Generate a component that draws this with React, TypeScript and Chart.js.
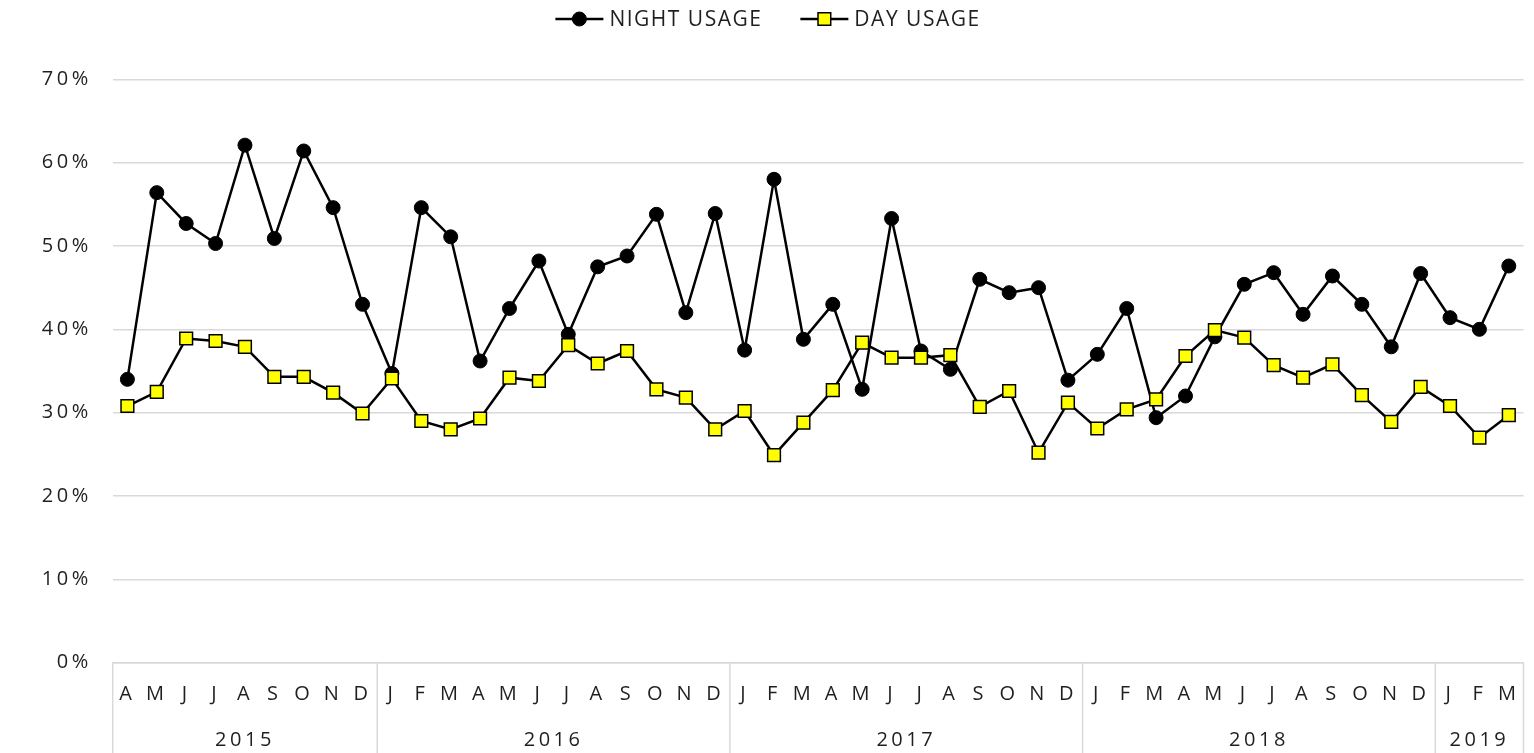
import React, { useEffect, useRef } from 'react';
import { Chart, registerables } from 'chart.js';

Chart.register(...registerables);

// ---------- data ----------
const MONTH_LABELS = [
  'A', 'M', 'J', 'J', 'A', 'S', 'O', 'N', 'D',
  'J', 'F', 'M', 'A', 'M', 'J', 'J', 'A', 'S', 'O', 'N', 'D',
  'J', 'F', 'M', 'A', 'M', 'J', 'J', 'A', 'S', 'O', 'N', 'D',
  'J', 'F', 'M', 'A', 'M', 'J', 'J', 'A', 'S', 'O', 'N', 'D',
  'J', 'F', 'M',
];
const YEAR_LABELS = ['2015', '2016', '2017', '2018', '2019'];
const YEAR_MONTH_COUNTS = [9, 12, 12, 12, 3];

const NIGHT_USAGE = [
  34.0, 56.4, 52.7, 50.3, 62.1, 50.9, 61.4, 54.6, 43.0,
  34.7, 54.6, 51.1, 36.2, 42.5, 48.2, 39.4, 47.5, 48.8, 53.8, 42.0, 53.9,
  37.5, 58.0, 38.8, 43.0, 32.8, 53.3, 37.4, 35.2, 46.0, 44.4, 45.0, 33.9,
  37.0, 42.5, 29.4, 32.0, 39.1, 45.4, 46.8, 41.8, 46.4, 43.0, 37.9, 46.7,
  41.4, 40.0, 47.6,
];
const DAY_USAGE = [
  30.8, 32.5, 38.9, 38.6, 37.9, 34.3, 34.3, 32.4, 29.9,
  34.1, 29.0, 28.0, 29.3, 34.2, 33.8, 38.1, 35.9, 37.4, 32.8, 31.8, 28.0,
  30.2, 24.9, 28.8, 32.7, 38.4, 36.6, 36.6, 36.9, 30.7, 32.6, 25.2, 31.2,
  28.1, 30.4, 31.6, 36.8, 39.9, 39.0, 35.7, 34.2, 35.8, 32.1, 28.9, 33.1,
  30.8, 27.0, 29.7,
];
const SERIES_NAMES = ['NIGHT USAGE', 'DAY USAGE'];

const Y_MIN = 0;
const Y_MAX = 70;
const Y_STEP = 10;

// ---------- styles ----------
const FONT = '"Open Sans", "DejaVu Sans", sans-serif';
const GRID = '#d9d9d9';
const TEXT = '#1f1f1f';
const AXIS_LS = '3.5px';
const LEGEND_LS = '1.5px';
const AXIS_FONT_SIZE = 20;
const LEGEND_FONT_SIZE = 21;

const setSpacing = (chart: any, v: string) => {
  (chart.ctx as any).letterSpacing = v;
};

const letterSpacingPlugin = {
  id: 'letterSpacing',
  beforeUpdate(chart: any) { setSpacing(chart, AXIS_LS); },
  beforeLayout(chart: any) { setSpacing(chart, AXIS_LS); },
  beforeDraw(chart: any) { setSpacing(chart, AXIS_LS); },
};

const yearAxisPlugin = {
  id: 'yearAxis',
  afterDraw(chart: any) {
    const ctx = chart.ctx as CanvasRenderingContext2D;
    const xs = chart.scales.x;
    const top = xs.top;
    const bottom = chart.height;
    const edge = (i: number) => xs.getPixelForValue(i - 0.5);
    const bounds = [0];
    YEAR_MONTH_COUNTS.forEach((c) => bounds.push(bounds[bounds.length - 1] + c));
    ctx.save();
    (ctx as any).letterSpacing = AXIS_LS;
    ctx.strokeStyle = GRID;
    ctx.lineWidth = 1.5;
    bounds.forEach((b) => {
      const px = edge(b);
      ctx.beginPath();
      ctx.moveTo(px, top);
      ctx.lineTo(px, bottom);
      ctx.stroke();
    });
    ctx.font = `${AXIS_FONT_SIZE}px ${FONT}`;
    ctx.fillStyle = TEXT;
    ctx.textAlign = 'center';
    ctx.textBaseline = 'middle';
    YEAR_LABELS.forEach((label, k) => {
      const cx = (edge(bounds[k]) + edge(bounds[k + 1])) / 2;
      ctx.fillText(label, cx, top + 78);
    });
    ctx.restore();
  },
};

const lineLegendPlugin = {
  id: 'lineLegend',
  afterDraw(chart: any) {
    const ctx = chart.ctx as CanvasRenderingContext2D;
    ctx.save();
    (ctx as any).letterSpacing = LEGEND_LS;
    ctx.font = `${LEGEND_FONT_SIZE}px ${FONT}`;
    const SAMPLE = 48;
    const GAP = 6;
    const ITEM_GAP = 38;
    const datasets = chart.data.datasets;
    const widths = datasets.map((ds: any) => ctx.measureText(ds.label).width);
    const total = widths.reduce((s: number, w: number) => s + SAMPLE + GAP + w, 0) + ITEM_GAP * (datasets.length - 1);
    let x = chart.width / 2 - total / 2 + 1;
    const y = 19;
    datasets.forEach((ds: any, i: number) => {
      ctx.strokeStyle = ds.borderColor;
      ctx.lineWidth = ds.borderWidth;
      ctx.beginPath();
      ctx.moveTo(x, y);
      ctx.lineTo(x + SAMPLE, y);
      ctx.stroke();
      const cx = x + SAMPLE / 2;
      ctx.fillStyle = ds.pointBackgroundColor;
      ctx.strokeStyle = ds.pointBorderColor;
      ctx.lineWidth = ds.pointBorderWidth;
      ctx.beginPath();
      if (ds.pointStyle === 'rect') {
        const half = ds.pointRadius * Math.SQRT1_2;
        ctx.rect(cx - half, y - half, half * 2, half * 2);
      } else {
        ctx.arc(cx, y, ds.pointRadius, 0, Math.PI * 2);
      }
      ctx.fill();
      ctx.stroke();
      ctx.fillStyle = TEXT;
      ctx.textAlign = 'left';
      ctx.textBaseline = 'middle';
      ctx.fillText(ds.label, x + SAMPLE + GAP, y + 1);
      x += SAMPLE + GAP + widths[i] + ITEM_GAP;
    });
    ctx.restore();
  },
};

export default function App() {
  const canvasRef = useRef<HTMLCanvasElement | null>(null);

  useEffect(() => {
    const canvas = canvasRef.current;
    if (!canvas) return;
    const chart = new Chart(canvas, {
      type: 'line',
      data: {
        labels: MONTH_LABELS,
        datasets: [
          {
            label: SERIES_NAMES[0],
            data: NIGHT_USAGE,
            borderColor: '#000000',
            borderWidth: 2.5,
            pointStyle: 'circle',
            pointRadius: 7,
            pointHoverRadius: 7,
            pointBackgroundColor: '#000000',
            pointBorderColor: '#000000',
            pointBorderWidth: 1,
            tension: 0,
            fill: false,
            order: 1,
          },
          {
            label: SERIES_NAMES[1],
            data: DAY_USAGE,
            borderColor: '#000000',
            borderWidth: 2.5,
            pointStyle: 'rect',
            pointRadius: 9,
            pointHoverRadius: 9,
            pointBackgroundColor: '#ffff00',
            pointBorderColor: '#000000',
            pointBorderWidth: 1.5,
            tension: 0,
            fill: false,
            order: 0,
          },
        ],
      },
      options: {
        animation: false,
        responsive: true,
        maintainAspectRatio: false,
        layout: { padding: { top: 79.3, right: 10, left: 0, bottom: 0 } },
        plugins: {
          legend: { display: false },
          tooltip: { enabled: false },
        },
        scales: {
          x: {
            type: 'category',
            offset: true,
            grid: { display: false, drawTicks: false },
            border: { display: true, color: GRID, width: 1.5 },
            ticks: {
              autoSkip: false,
              maxRotation: 0,
              minRotation: 0,
              padding: 20,
              color: TEXT,
              font: { family: FONT, size: AXIS_FONT_SIZE },
            },
            afterFit: (scale: any) => {
              scale.height = 90.3;
              scale.paddingLeft = 0;
              scale.paddingRight = 0;
            },
          },
          y: {
            min: Y_MIN,
            max: Y_MAX,
            grid: { color: GRID, lineWidth: 1.5, drawTicks: false },
            border: { display: false },
            ticks: {
              stepSize: Y_STEP,
              padding: 21,
              color: TEXT,
              font: { family: FONT, size: AXIS_FONT_SIZE },
              callback: (v: any) => `${v}%`,
            },
            afterFit: (scale: any) => { scale.width = 112.7; },
          },
        },
      },
      plugins: [letterSpacingPlugin, yearAxisPlugin, lineLegendPlugin],
    });
    return () => chart.destroy();
  }, []);

  return (
    <div style={{ position: 'fixed', left: 0, top: 0, width: 1534, height: 753, background: '#fff' }}>
      <canvas ref={canvasRef} />
    </div>
  );
}
